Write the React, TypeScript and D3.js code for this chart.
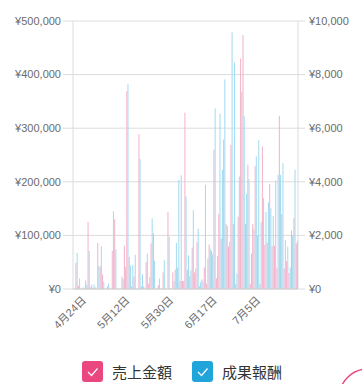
import React from 'react';
import * as d3 from 'd3';

// daily categories (2019-04-20 .. 2019-07-21)
const firstDay = new Date(2019, 3, 20);
const lastDay = new Date(2019, 6, 22);
const days = d3.timeDay.range(firstDay, lastDay);

// 売上金額 (left axis, yen)
const sales = [
  0, 49000, 6000, 0, 3000, 16000, 125000, 3000, 2000, 3000,
  86000, 42000, 27000, 0, 5000, 0, 71000, 130000, 0, 0,
  23000, 81000, 369000, 60000, 5000, 23000, 0, 289000, 5000, 5000,
  50000, 10000, 85000, 104000, 0, 7000, 0, 31000, 0, 144000,
  0, 31000, 36000, 40000, 15000, 15000, 329000, 36000, 24000, 77000,
  31000, 87000, 5000, 18000, 40000, 10000, 83000, 71000, 260000, 20000,
  140000, 94000, 279000, 121000, 79000, 269000, 121000, 10000, 135000, 430000,
  474000, 121000, 232000, 10000, 121000, 229000, 100000, 10000, 266000, 82000,
  86000, 196000, 80000, 81000, 40000, 323000, 140000, 38000, 52000, 30000,
  109000, 132000, 85000
];

// 成果報酬 (right axis, yen)
const rewards = [
  0, 1350, 390, 0, 0, 150, 1420, 160, 160, 0,
  850, 1600, 280, 0, 200, 0, 2900, 1475, 0, 0,
  375, 825, 7640, 875, 890, 1275, 0, 4850, 550, 0,
  1325, 450, 2640, 1050, 0, 390, 0, 1075, 0, 1950,
  0, 300, 1725, 4075, 4240, 300, 3450, 1260, 700, 2940,
  760, 2240, 250, 300, 3890, 1140, 1500, 1300, 6740, 1225,
  6540, 4450, 7825, 2360, 1760, 9575, 8450, 575, 4200, 7350,
  6450, 3550, 4100, 1325, 2225, 4950, 5550, 2500, 3400, 2875,
  3225, 3010, 2725, 4050, 4260, 4260, 4700, 1825, 1575, 800,
  2010, 4450, 1800
];

const dayTicks = ['4月24日', '5月12日', '5月30日', '6月17日', '7月5日'];
const salesTicks = [0, 100000, 200000, 300000, 400000, 500000];
const rewardTicks = [0, 2000, 4000, 6000, 8000, 10000];
const seriesNames = ['売上金額', '成果報酬'];
const barColors = ['#f5b4cb', '#a6dcf1'];
const boxColors = ['#ea4780', '#1fa5da'];

const width = 362;
const height = 384;
const left = 73;
const right = 298;
const top = 21;
const bottom = 289;
const font = "'Liberation Sans', Arial, 'Noto Sans CJK JP', sans-serif";

export default function App() {
  const fmtDay = d3.timeFormat('%-m月%-d日');
  const fmtYen = (v) => '¥' + d3.format(',')(v);

  const x = d3
    .scaleBand()
    .domain(days.map((d, i) => i))
    .range([left, right])
    .paddingInner(0.08);

  const ySales = d3.scaleLinear().domain([0, 500000]).range([bottom, top]);
  const yRewards = d3.scaleLinear().domain([0, 10000]).range([bottom, top]);

  const sub = d3
    .scaleBand()
    .domain([0, 1])
    .range([0, x.bandwidth()])
    .paddingInner(0.1);

  const tickIdx = days
    .map((d, i) => i)
    .filter(i => dayTicks.includes(fmtDay(days[i])));

  return (
    <svg
      width={width}
      height={height}
      style={{ position: 'absolute', left: 0, top: 0, background: '#fff' }}
      fontFamily={font}
    >
      {/* gridlines + left ticks */}
      {salesTicks.map(t => (
        <g key={'g' + t}>
          <line
            x1={left - 10}
            x2={right + 7}
            y1={ySales(t)}
            y2={ySales(t)}
            stroke="#dcdcdc"
            strokeWidth={1}
          />
          <text
            x={left - 12}
            y={ySales(t)}
            dy="0.35em"
            textAnchor="end"
            fontSize={11}
            fill="#6b6b6b"
          >
            {fmtYen(t)}
          </text>
        </g>
      ))}
      {rewardTicks.map(t => (
        <text
          key={'r' + t}
          x={right + 11}
          y={yRewards(t)}
          dy="0.35em"
          textAnchor="start"
          fontSize={11}
          fill="#6b6b6b"
        >
          {fmtYen(t)}
        </text>
      ))}
      <line x1={left} x2={left} y1={top} y2={bottom} stroke="#dcdcdc" />
      <line x1={right} x2={right} y1={top} y2={bottom} stroke="#dcdcdc" />

      {/* bars */}
      {days.map((d, i) => (
        <g key={'b' + i}>
          <rect
            x={x(i) + sub(0)}
            y={ySales(sales[i])}
            width={sub.bandwidth()}
            height={bottom - ySales(sales[i])}
            fill={barColors[0]}
          />
          <rect
            x={x(i) + sub(1)}
            y={yRewards(rewards[i])}
            width={sub.bandwidth()}
            height={bottom - yRewards(rewards[i])}
            fill={barColors[1]}
          />
        </g>
      ))}
      <line x1={left} x2={right} y1={bottom} y2={bottom} stroke="#d0d0d0" />

      {/* x labels */}
      {tickIdx.map(i => {
        const cx = x(i) + x.bandwidth() / 2;
        return (
          <text
            key={'x' + i}
            transform={`translate(${cx + 3},${bottom + 12}) rotate(-45)`}
            textAnchor="end"
            fontSize={11}
            fill="#6b6b6b"
          >
            {fmtDay(days[i])}
          </text>
        );
      })}

      {/* legend */}
      {seriesNames.map((name, k) => {
        const lx = 82 + k * 110;
        return (
          <g key={name} transform={`translate(${lx},361)`}>
            <rect width={21} height={21} rx={3} fill={boxColors[k]} />
            <path
              d="M6 11 L9.5 14.5 L15.5 7.5"
              fill="none"
              stroke="#fff"
              strokeWidth={1.2}
            />
            <text
              x={30}
              y={16.5}
              fontSize={15}
              fill="#333"
              fontFamily="'Noto Sans CJK JP', sans-serif"
            >
              {name}
            </text>
          </g>
        );
      })}

      {/* floating button edge */}
      <circle cx={368} cy={398} r={29} fill="#fff" stroke="#ea4780" strokeWidth={1.5} />
    </svg>
  );
}
